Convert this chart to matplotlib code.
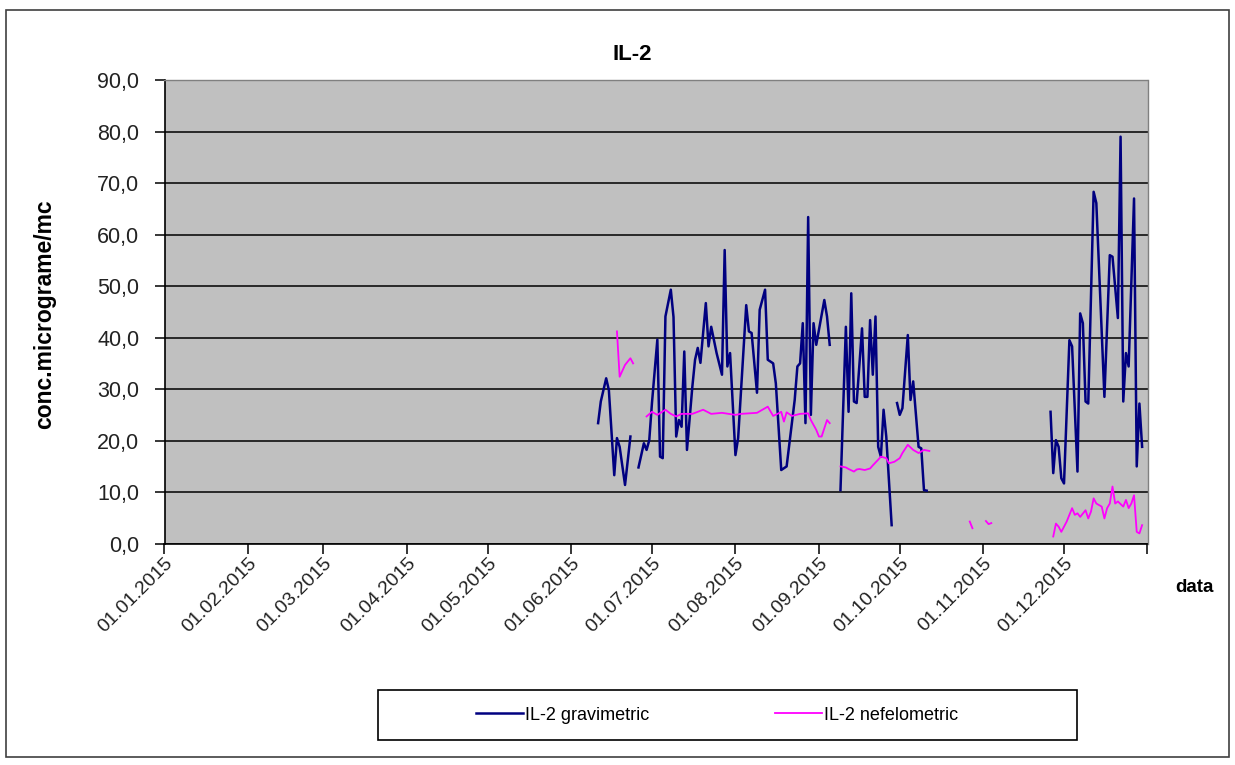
import numpy as np
import pandas as pd
import matplotlib
matplotlib.use("Agg")
import matplotlib.pyplot as plt
from matplotlib.patches import Rectangle
from matplotlib.ticker import FuncFormatter

plt.rcParams['font.family'] = ['Liberation Sans', 'DejaVu Sans']

nan = np.nan

# day offsets from 01.01.2015 (missing days -> NaN breaks the line)
grav_day = [161, 162, 164, 165, 167, 168, 169, 171, 173,
            174,
            176, 178, 179, 180, 181, 183, 184, 185, 186, 188, 189, 190, 191, 192,
            193, 194, 196, 197, 198, 199, 201, 202, 203, 205, 207, 208, 209, 210,
            212, 213, 216, 217, 218, 220, 221, 223, 224, 226, 227, 229, 231, 234,
            235, 236, 237, 238, 239, 240, 241, 242, 245, 246, 247,
            249,
            251, 253, 254, 255, 256, 257, 259, 260, 261, 262, 263, 264, 265, 266,
            267, 268, 270,
            271,
            272, 273, 274, 276, 277, 278, 280, 281, 282, 283,
            300,
            329, 330, 331, 332, 333, 334, 336, 337, 339, 340, 341, 342, 343, 345,
            346, 349, 351, 352, 354, 355, 356, 357, 358, 360, 361, 362, 363]
grav_val = [23.4, 27.6, 32.1, 29.8, 13.3, 20.5, 18.8, 11.4, 20.8,
            nan,
            14.8, 19.5, 18.2, 20.1, 27.3, 39.6, 16.9, 16.6, 44.1, 49.3, 44.0, 20.8, 24.0, 22.7,
            37.3, 18.2, 30.5, 35.7, 38.0, 35.1, 46.7, 38.3, 42.1, 37.0, 32.8, 57.0, 34.4, 37.0,
            17.2, 20.5, 46.3, 41.2, 40.9, 29.3, 45.4, 49.3, 35.7, 35.0, 31.1, 14.3, 15.0, 27.9,
            34.4, 35.0, 42.8, 23.4, 63.4, 25.0, 42.8, 38.6, 47.3, 44.1, 38.6,
            nan,
            10.4, 42.1, 25.6, 48.6, 27.6, 27.3, 41.8, 28.5, 28.5, 43.4, 32.8, 44.1, 18.8, 16.9,
            26.0, 20.8, 3.6,
            nan,
            27.3, 25.0, 26.3, 40.5, 27.9, 31.5, 18.8, 18.5, 10.4, 10.3,
            nan,
            25.6, 13.7, 20.1, 18.8, 12.7, 11.7, 39.5, 38.3, 14.0, 44.7, 42.8, 27.6, 27.2, 68.3,
            66.1, 28.5, 56.0, 55.7, 43.8, 79.0, 27.6, 37.0, 34.4, 67.0, 15.0, 27.2, 18.8]

nef_day = [168, 169, 171, 173, 174,
           176,
           179, 181, 183, 186, 188, 190, 192, 196, 200, 203, 207, 212, 214, 220,
           224, 226, 228, 229, 230, 231, 233, 236, 239, 240, 242, 243, 244, 246, 247,
           249,
           251, 253, 254, 256, 257, 258, 260, 262, 263, 265, 266, 268, 269, 271,
           273, 274, 276, 278, 280, 282, 284,
           290,
           299, 300,
           302,
           305, 306, 307,
           315,
           330, 331, 332, 333, 335, 337, 338, 339, 340, 342, 343, 344, 345, 346,
           348, 349, 350, 351, 352, 353, 354, 356, 357, 358, 359, 360, 361, 362, 363]
nef_val = [41.2, 32.4, 34.7, 36.0, 35.0,
           nan,
           24.7, 25.6, 25.0, 26.0, 25.2, 24.7, 25.2, 25.2, 26.0, 25.2, 25.4, 25.0, 25.2, 25.4,
           26.6, 24.8, 25.3, 25.6, 23.7, 25.5, 24.8, 25.2, 25.3, 24.0, 22.1, 20.8, 20.8, 24.0, 23.4,
           nan,
           15.0, 14.8, 14.5, 14.0, 14.4, 14.5, 14.3, 14.6, 15.2, 16.3, 16.9, 16.6, 15.6, 15.9,
           16.6, 17.6, 19.2, 18.2, 17.6, 18.2, 18.0,
           nan,
           4.3, 3.0,
           nan,
           4.4, 3.8, 4.0,
           nan,
           1.4, 3.9, 3.3, 2.3, 4.3, 6.9, 5.6, 5.9, 5.2, 6.5, 4.9, 6.2, 8.8, 7.8,
           7.2, 4.9, 6.9, 7.8, 11.1, 7.8, 8.2, 7.2, 8.5, 6.9, 7.8, 9.4, 2.3, 2.0, 3.6]

series_names = ["IL-2 gravimetric", "IL-2 nefelometric"]
title = "IL-2"
y_label = "conc.micrograme/mc"
x_label = "data"
y_ticks = [0, 10, 20, 30, 40, 50, 60, 70, 80, 90]

W, H = 1235, 765
fig = plt.figure(figsize=(W / 100, H / 100), dpi=100)

L, R, T, B = 164.5, 1147.5, 80, 543.7
ax = fig.add_axes([L / W, 1 - B / H, (R - L) / W, (B - T) / H])
ax.set_facecolor('#C0C0C0')

start = pd.Timestamp('2015-01-01')
gd = start + pd.to_timedelta(grav_day, unit='D')
nd = start + pd.to_timedelta(nef_day, unit='D')

l1, = ax.plot(gd, grav_val, color='#000080', lw=1.8, label=series_names[0], zorder=3)
l2, = ax.plot(nd, nef_val, color='#FF00FF', lw=1.3, label=series_names[1], zorder=3)

ax.set_xlim(start, pd.Timestamp('2016-01-01'))
ax.set_ylim(0, 90)
ax.set_yticks(y_ticks)
ax.yaxis.set_major_formatter(FuncFormatter(lambda v, p: f"{v:.1f}".replace('.', ',')))

months = pd.date_range('2015-01-01', '2016-01-01', freq='MS')
ax.set_xticks(months)
ax.set_xticklabels([m.strftime('%d.%m.%Y') if i < 12 else '' for i, m in enumerate(months)],
                   rotation=45, ha='right', va='top', rotation_mode='anchor')

ax.grid(axis='y', color='black', lw=1.1, zorder=1)
ax.tick_params(axis='both', direction='out', length=7, width=1.1, color='black',
               labelcolor='#222222')
ax.tick_params(axis='y', pad=11, labelsize=15.5)
ax.tick_params(axis='x', pad=1, labelsize=14)
for s in ['left', 'bottom']:
    ax.spines[s].set_color('black')
    ax.spines[s].set_linewidth(1.2)
for s in ['top', 'right']:
    ax.spines[s].set_color('#808080')
    ax.spines[s].set_linewidth(1.0)

fig.text(632 / W, 1 - 55 / H, title, ha='center', va='center', fontsize=16, fontweight='bold')
fig.text(45 / W, 1 - 314 / H, y_label, ha='center', va='center', rotation=90,
         fontsize=16.5, fontweight='bold')
fig.text(1194 / W, 1 - 588 / H, x_label, ha='center', va='center', fontsize=13.5, fontweight='bold')

# outer chart border
fig.add_artist(Rectangle((6 / W, 1 - 757 / H), (1229 - 6) / W, (757 - 10) / H,
                         transform=fig.transFigure, fill=False, edgecolor='#404040', lw=1.2))
# legend frame
fig.add_artist(Rectangle((378 / W, 1 - 740 / H), (1077 - 378) / W, 50 / H,
                         transform=fig.transFigure, fill=False, edgecolor='black', lw=1.2))
fig.legend(handles=[l1, l2], loc='center', bbox_to_anchor=(717 / W, 1 - 715 / H),
           ncol=2, frameon=False, fontsize=13, handlelength=2.6, handletextpad=0.1,
           columnspacing=7.0)

fig.savefig('out.png', dpi=100)
